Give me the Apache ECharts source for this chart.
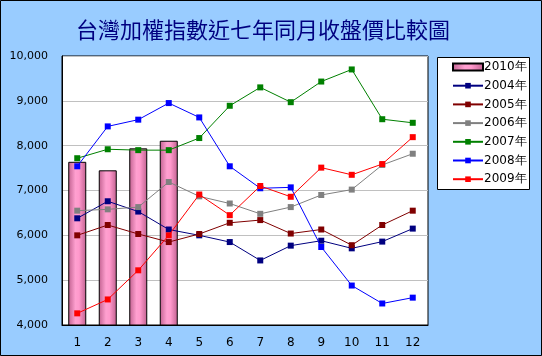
<!DOCTYPE html>
<html><head><meta charset="utf-8">
<script src="https://cdn.jsdelivr.net/npm/echarts@6/dist/echarts.min.js"></script>
<style>html,body{margin:0;padding:0;background:#99CCFF}#c{width:542px;height:356px}</style>
</head><body><div id="c"></div>
<script>
const months = ['1','2','3','4','5','6','7','8','9','10','11','12'];
const yTicks = [4000,5000,6000,7000,8000,9000,10000];
const s2010 = [7640, 7450, 7940, 8110];
const s2004 = [6380, 6760, 6530, 6130, 6000, 5850, 5440, 5770, 5880, 5710, 5860, 6150];
const s2005 = [6000, 6230, 6030, 5850, 6030, 6280, 6340, 6040, 6130, 5780, 6230, 6550];
const s2006 = [6550, 6580, 6630, 7190, 6870, 6710, 6480, 6630, 6900, 7020, 7570, 7820];
const s2007 = [7720, 7920, 7900, 7900, 8170, 8890, 9300, 8970, 9430, 9700, 8590, 8510];
const s2008 = [7540, 8430, 8580, 8950, 8630, 7540, 7050, 7070, 5740, 4880, 4480, 4610];
const s2009 = [4260, 4570, 5220, 6000, 6910, 6450, 7100, 6860, 7510, 7350, 7590, 8190];
const lineNames = ['2004年','2005年','2006年','2007年','2008年','2009年'];
const lineData = [s2004, s2005, s2006, s2007, s2008, s2009];
const lineColors = ['#000080','#800000','#808080','#008000','#0000FF','#FF0000'];

const chart = echarts.init(document.getElementById('c'), null, {renderer:'canvas'});
const font = 'DejaVu Sans';
const barGrad = new echarts.graphic.LinearGradient(0,0,1,0,[
  {offset:0,color:'#C0608F'},{offset:0.4,color:'#FFA0D0'},{offset:0.6,color:'#FF99CC'},{offset:1,color:'#C0608F'}]);
const series = [{
  name:'2010年', type:'bar', data:s2010, barWidth:18,
  itemStyle:{color:barGrad, borderColor:'#000', borderWidth:1}, z:1
}];
lineData.forEach((d,i)=>{
  series.push({name:lineNames[i], type:'line', data:d, symbol:'rect', symbolSize:6,
    lineStyle:{width:1,color:lineColors[i]}, itemStyle:{color:lineColors[i]}, z:3+i});
});
chart.setOption({
  backgroundColor:'#99CCFF',
  animation:false,
  title:{text:'台灣加權指數近七年同月收盤價比較圖', left:258, top:14, textAlign:'center',
    textStyle:{fontFamily:'Noto Sans CJK TC', fontSize:22, fontWeight:'normal', color:'#000080'}},
  graphic:[
    {type:'rect', shape:{x:0.5,y:0.5,width:541,height:355}, style:{fill:null, stroke:'#000', lineWidth:1}, z:100},
    {type:'rect', shape:{x:437.5,y:57.5,width:92,height:132}, style:{fill:'#fff', stroke:'#000', lineWidth:1}, z:0}
  ],
  legend:{orient:'vertical', left:447, top:56, itemGap:6.7, itemWidth:30, itemHeight:7,
    textStyle:{fontFamily:font, fontSize:12, color:'#000', padding:[0,0,0,-4]},
    data:[{name:'2010年', icon:'rect'}].concat(lineNames)},
  grid:{left:62, top:56, width:366, height:269, show:true, borderColor:'#000', borderWidth:1, backgroundColor:'#fff'},
  xAxis:{type:'category', data:months, boundaryGap:true,
    axisLine:{lineStyle:{color:'#000'}}, axisTick:{inside:true, length:4, lineStyle:{color:'#000'}},
    axisLabel:{fontFamily:font, fontSize:12, color:'#000', margin:12}},
  yAxis:{type:'value', min:yTicks[0], max:yTicks[yTicks.length-1], interval:1000,
    axisLine:{show:true, lineStyle:{color:'#000'}}, axisTick:{show:false},
    splitLine:{lineStyle:{color:'#C0C0C0'}},
    axisLabel:{fontFamily:font, fontSize:11, color:'#000', margin:14,
      formatter:v=>v.toLocaleString('en-US')}},
  series:series
});
</script></body></html>
